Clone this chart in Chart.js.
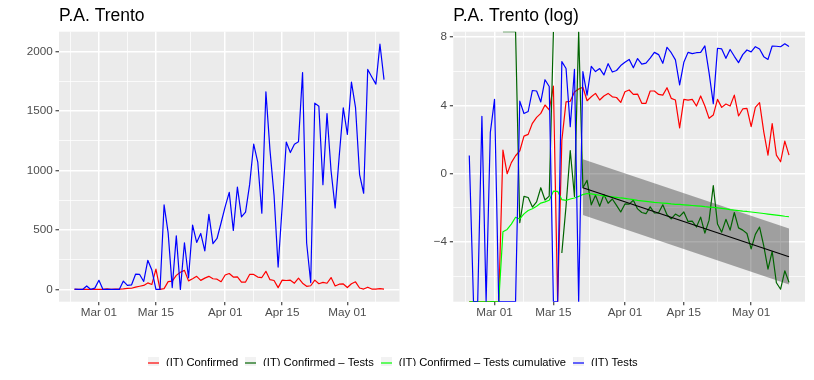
<!DOCTYPE html>
<html>
<head>
<meta charset="utf-8">
<script src="https://cdn.jsdelivr.net/npm/chart.js@4.4.0/dist/chart.umd.min.js"></script>
<style>
  body { margin: 0; background: #fff; width: 814px; height: 380px; overflow: hidden; position: relative; }
  canvas { position: absolute; }
  #left { left: 0; top: 0; }
  #right { left: 406px; top: 0; }
  #legend { left: 0; top: 352px; }
</style>
</head>
<body>
<canvas id="left" width="406" height="340"></canvas>
<canvas id="right" width="408" height="340"></canvas>
<canvas id="legend" width="784" height="28"></canvas>
<script>
// days counted from Mar 01 2020: Feb 24 = -6 ... May 10 = 70
const days = Array.from({ length: 77 }, (_, i) => i - 6);

// x axis (shared by both panels)
const X_MIN = -9.8, X_MAX = 73.8;
const xMajor = [0, 14, 31, 45, 61];
const xLabels = ['Mar 01', 'Mar 15', 'Apr 01', 'Apr 15', 'May 01'];
const xMinor = [-7, 7, 22.5, 38, 53, 68];

// left panel y axis
const LEFT_MIN = -103, LEFT_MAX = 2165;
const leftMajor = [0, 500, 1000, 1500, 2000];
const leftLabels = ['0', '500', '1000', '1500', '2000'];
const leftMinor = [250, 750, 1250, 1750];

// right panel y axis
const RIGHT_MIN = -7.49, RIGHT_MAX = 8.31;
const rightMajor = [-4, 0, 4, 8];
const rightLabels = ['\u22124', '0', '4', '8'];
const rightMinor = [-6, -2, 2, 6];

// daily values (left panel)
const tests = [3, 0, 0, 29, 0, 11, 77, 0, 0, 0, 0, 0, 70, 34, 38, 128, 126, 67, 245, 163,
  0, 0, 710, 475, 16, 450, 0, 392, 98, 540, 395, 470, 324, 630, 385, 428, 560,
  695, 815, 495, 860, 610, 650, 880, 1220, 1070, 640,
  1660, 1170, 790, 188, 700, 1238, 1150, 1220, 1240, 1822,
  390, 58, 1565, 1538, 880, 1478, 995, 685, 1120, 1525,
  1302, 1742, 1530, 965, 808, 1848, 1785, 1725, 2060, 1762];
const confirmed = [0, 0, 0, 0, 0, 0, 0, 0, 4, 1, 2, 3, 4, 9, 10, 19, 27, 34, 55, 42,
  170, 0, 7, 66, 70, 118, 145, 160, 72, 90, 110, 76, 95, 110, 90, 86, 65,
  121, 134, 104, 106, 62, 62, 126, 126, 104, 100,
  152, 82, 75, 15, 78, 75, 78, 52, 95, 52,
  26, 31, 78, 48, 59, 52, 100, 29, 44, 46,
  16, 48, 64, 12, 3, 19, 3, 2, 7, 3];

// log values (right panel); -Infinity / Infinity sit on the panel edge, null = no value
const NI = -Infinity, PI = Infinity;
const logTests = [1.07, NI, NI, 3.36, NI, 2.4, 4.35, NI, NI, NI, NI, NI,
  4.25, 3.52, 3.64, 4.87, 4.84, 4.2, 5.5, 5.1, NI, NI, 6.56, 6.16, 2.75, 6.1, NI,
  5.97, 4.6, 6.28, 5.98, 6.15, 5.78, 6.44, 5.95, 6.04, 6.33,
  6.52, 6.69, 6.2, 6.74, 6.41, 6.47, 6.76, 7.1, 6.97, 6.46,
  7.4, 7.08, 6.66, 5.2, 6.52, 7.1, 7.03, 7.08, 7.1, 7.48,
  5.9, 4.1, 7.34, 7.3, 6.75, 7.27, 6.87, 6.5, 6.97, 7.24,
  7.13, 7.43, 7.3, 6.85, 6.69, 7.47, 7.46, 7.43, 7.6, 7.44];
const logConfirmed = [NI, NI, NI, NI, NI, NI, NI, NI,
  1.38, 0, 0.65, 1.05, 1.33, 2.2, 2.3, 2.95, 3.3, 3.53, 4.02, 3.73,
  5.12, NI, 1.95, 4.2, 4.24, 4.78, 4.96,
  5.06, 4.27, 4.5, 4.7, 4.31, 4.55, 4.7, 4.5, 4.46, 4.17,
  4.8, 4.9, 4.64, 4.66, 4.12, 4.12, 4.84, 4.84, 4.64, 4.6,
  5.03, 4.41, 4.31, 2.68, 4.35, 4.31, 4.35, 3.96, 4.55, 3.96,
  3.24, 3.43, 4.35, 3.88, 4.08, 3.96, 4.6, 3.38, 3.79, 3.82,
  2.75, 3.88, 4.16, 2.45, 1.09, 2.93, 1.09, 0.7, 1.91, 1.09];
const logRatio = [NI, null, null, NI, null, NI, NI, null,
  PI, PI, PI, PI,
  -2.87, -1.33, -1.39, -1.95, -1.65, -0.82, -1.54, -1.31,
  PI, null, -4.64, -1.9, 1.35, -1.33, PI,
  -0.82, -0.39, -1.82, -1.26, -1.9, -1.22, -1.73, -1.48, -1.85, -2.24,
  -1.77, -1.78, -1.55, -2.06, -2.27, -2.34, -1.94, -2.3, -2.29, -1.82,
  -2.4, -2.64, -2.36, -2.5, -2.24, -2.79, -2.78, -3.12, -2.54, -3.48,
  -2.72, -0.7, -2.94, -3.42, -2.67, -3.3, -2.27, -3.17, -3.3, -3.5,
  -4.4, -3.55, -3.12, -4.23, -5.58, -4.55, -6.38, -6.76, -5.68, -6.36];
const logRatioCum = [NI, NI, NI, NI, NI, NI, NI, NI,
  -3.4, -3.26, -2.95, -2.55, -2.65, -2.35, -2.15, -2.05, -1.9, -1.72, -1.65, -1.55,
  -1.02, -1.03, -1.52, -1.56, -1.48, -1.42, -1.33,
  -1.22, -1.16, -1.18, -1.22, -1.26, -1.3, -1.33, -1.36, -1.39, -1.42,
  -1.44, -1.48, -1.52, -1.56, -1.59, -1.62, -1.65, -1.68, -1.7, -1.72,
  -1.74, -1.77, -1.79, -1.8, -1.82, -1.84, -1.86, -1.88, -1.9, -1.93,
  -1.95, -1.97, -2.0, -2.03, -2.06, -2.1, -2.13, -2.16, -2.19, -2.21,
  -2.24, -2.27, -2.3, -2.33, -2.36, -2.39, -2.42, -2.45, -2.49, -2.52];

// linear fit of log ratio from Mar 22 with its band
const fitDays = [21, 70];
const fitValues = [-0.82, -4.86];
const bandUpper = [0.84, -3.2];
const bandLower = [-2.42, -6.48];

const legendNames = ['(IT) Confirmed', '(IT) Confirmed \u2013 Tests', '(IT) Confirmed \u2013 Tests cumulative', '(IT) Tests'];
const legendColors = ['#FF0000', '#006400', '#00FF00', '#0000FF'];

Chart.defaults.font.family = "'Liberation Sans', Arial, sans-serif";

// grey panel + left aligned title
const panelPlugin = {
  id: 'panel',
  beforeDraw(chart) {
    const { ctx, chartArea: a } = chart;
    ctx.save();
    ctx.fillStyle = '#EBEBEB';
    ctx.fillRect(a.left, a.top, a.right - a.left, a.bottom - a.top);
    ctx.restore();
  },
  afterDraw(chart, args, opts) {
    const { ctx, chartArea: a } = chart;
    ctx.save();
    ctx.font = "17.5px 'Liberation Sans', Arial, sans-serif";
    ctx.fillStyle = '#000';
    ctx.textBaseline = 'alphabetic';
    ctx.fillText(opts.text, a.left, 20.5);
    ctx.restore();
  }
};

function gridOpts(major) {
  return {
    color: '#FFFFFF',
    lineWidth: c => major.includes(c.tick.value) ? 1.5 : 0.75,
    tickLength: 3.5,
    tickWidth: 1.1,
    tickColor: c => major.includes(c.tick.value) ? '#333333' : 'rgba(0,0,0,0)'
  };
}

function xAxis() {
  return {
    type: 'linear', min: X_MIN, max: X_MAX,
    afterBuildTicks: s => { s.ticks = xMajor.concat(xMinor).sort((a, b) => a - b).map(v => ({ value: v })); },
    afterFit: s => { s.height = 38.3; },
    ticks: {
      autoSkip: false, maxRotation: 0, padding: 1, color: '#4D4D4D', font: { size: 11.7 },
      callback: v => { const i = xMajor.indexOf(v); return i < 0 ? '' : xLabels[i]; }
    },
    grid: gridOpts(xMajor),
    border: { display: false }
  };
}

function yAxis(min, max, major, minor, labels, width) {
  return {
    type: 'linear', min: min, max: max,
    afterBuildTicks: s => { s.ticks = major.concat(minor).sort((a, b) => a - b).map(v => ({ value: v })); },
    afterFit: s => { s.width = width; },
    ticks: {
      autoSkip: false, padding: 2.8, color: '#4D4D4D', font: { size: 11.7 },
      callback: v => { const i = major.indexOf(v); return i < 0 ? '' : labels[i]; }
    },
    grid: gridOpts(major),
    border: { display: false }
  };
}

function points(values, lo, hi) {
  return days.map((d, i) => {
    let v = values[i];
    if (v === null) return { x: d, y: null };
    if (v === -Infinity) v = lo;
    if (v === Infinity) v = hi;
    return { x: d, y: v };
  });
}

function line(label, data, color, width) {
  return {
    label: label, data: data, borderColor: color, borderWidth: width || 1.2,
    pointRadius: 0, tension: 0, fill: false, borderJoinStyle: 'round'
  };
}

const common = {
  responsive: false,
  animation: false,
  events: [],
  plugins: { legend: { display: false }, tooltip: { enabled: false } }
};

new Chart(document.getElementById('left'), {
  type: 'line',
  data: {
    datasets: [
      line('(IT) Tests', points(tests), legendColors[3]),
      line('(IT) Confirmed', points(confirmed), legendColors[0])
    ]
  },
  options: Object.assign({}, common, {
    layout: { padding: { top: 31.7, right: 6.5, left: 0, bottom: 0 } },
    scales: { x: xAxis(), y: yAxis(LEFT_MIN, LEFT_MAX, leftMajor, leftMinor, leftLabels, 59) },
    plugins: Object.assign({}, common.plugins, { panel: { text: 'P.A. Trento' } })
  }),
  plugins: [panelPlugin]
});

new Chart(document.getElementById('right'), {
  type: 'line',
  data: {
    datasets: [
      line('fit', fitDays.map((d, i) => ({ x: d, y: fitValues[i] })), '#000000', 1.2),
      line('(IT) Tests', points(logTests, RIGHT_MIN, RIGHT_MAX), legendColors[3]),
      line('(IT) Confirmed - Tests cumulative', points(logRatioCum, RIGHT_MIN, RIGHT_MAX), legendColors[2]),
      line('(IT) Confirmed - Tests', points(logRatio, RIGHT_MIN, RIGHT_MAX), legendColors[1]),
      line('(IT) Confirmed', points(logConfirmed, RIGHT_MIN, RIGHT_MAX), legendColors[0]),
      Object.assign(line('upper', fitDays.map((d, i) => ({ x: d, y: bandUpper[i] })), 'rgba(0,0,0,0)', 0),
        { fill: 6, backgroundColor: 'rgba(0,0,0,0.32)' }),
      line('lower', fitDays.map((d, i) => ({ x: d, y: bandLower[i] })), 'rgba(0,0,0,0)', 0)
    ]
  },
  options: Object.assign({}, common, {
    layout: { padding: { top: 31.7, right: 9, left: 0, bottom: 0 } },
    scales: { x: xAxis(), y: yAxis(RIGHT_MIN, RIGHT_MAX, rightMajor, rightMinor, rightLabels, 47.3) },
    plugins: Object.assign({}, common.plugins, { panel: { text: 'P.A. Trento (log)' } })
  }),
  plugins: [panelPlugin]
});

// legend keys: grey square with a coloured line, like ggplot
function keyImage(color) {
  const c = document.createElement('canvas');
  c.width = 11; c.height = 12;
  const g = c.getContext('2d');
  g.fillStyle = '#F2F2F2';
  g.fillRect(0, 0, 11, 12);
  g.strokeStyle = color;
  g.lineWidth = 1.2;
  g.beginPath(); g.moveTo(0, 6); g.lineTo(11, 6); g.stroke();
  return c;
}
const keys = legendColors.map(keyImage);

new Chart(document.getElementById('legend'), {
  type: 'line',
  data: { datasets: legendNames.map((n, i) => ({ label: n, data: [], borderColor: legendColors[i] })) },
  options: Object.assign({}, common, {
    layout: { padding: 0 },
    scales: { x: { display: false }, y: { display: false } },
    plugins: {
      tooltip: { enabled: false },
      legend: {
        display: true, position: 'top',
        labels: {
          usePointStyle: true, pointStyleWidth: 14, padding: 5.4, color: '#1A1A1A', font: { size: 11.2 },
          generateLabels: chart => chart.data.datasets.map((ds, i) => ({
            text: ds.label, pointStyle: keys[i], fillStyle: legendColors[i], strokeStyle: legendColors[i],
            lineWidth: 0, hidden: false, datasetIndex: i
          }))
        }
      }
    }
  })
});
</script>
</body>
</html>
